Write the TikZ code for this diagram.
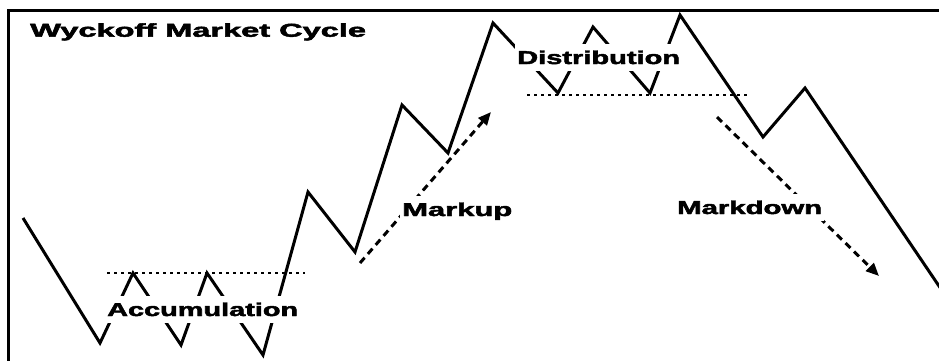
\documentclass[tikz,border=0pt]{standalone}
\usepackage{fontspec}
\setmainfont{Liberation Sans}
\newfontfamily\heavyfont[FakeBold=2.2]{Liberation Sans Bold}
\usetikzlibrary{arrows.meta}
\tikzset{
  price/.style={line width=3pt, line join=miter, line cap=butt},
  frame/.style={line width=3pt},
  level/.style={line width=1.8pt, dash pattern=on 3pt off 4pt},
  trend/.style={line width=3pt, dash pattern=on 7pt off 5pt, -{Triangle[length=13pt,width=11pt]}},
  lbl/.style={fill=white, inner xsep=2pt, inner ysep=7pt, anchor=base west,
              font=\fontsize{18.6}{20}\selectfont\heavyfont},
  ttl/.style={inner sep=0pt, anchor=base west,
              font=\fontsize{18.6}{20}\selectfont\heavyfont}
}
\begin{document}
\begin{tikzpicture}[x=1pt,y=-1pt]
\useasboundingbox (0,0) rectangle (939,360);
\fill[white] (0,0) rectangle (939,360);
% frame
\coordinate (fb) at (8,362);
\coordinate (fc) at (8,10);
\coordinate (fr) at (941,10);
\draw[frame] (fb) -- (fc) -- (fr);
% price path coordinates
\coordinate (a1) at (23,218);
\coordinate (a2) at (100,343);
\coordinate (a3) at (133,273);
\coordinate (a4) at (181,345);
\coordinate (a5) at (207,273);
\coordinate (a6) at (263,355);
\coordinate (a7) at (308,192);
\coordinate (a8) at (355,252);
\coordinate (a9) at (402,105);
\coordinate (a10) at (448,153);
\coordinate (a11) at (493,23);
\coordinate (a12) at (558,93);
\coordinate (a13) at (593,27);
\coordinate (a14) at (650,93);
\coordinate (a15) at (680,15);
\coordinate (a16) at (763,137);
\coordinate (a17) at (805,88);
\coordinate (a18) at (941,289);
% levels
\coordinate (la1) at (107,273);
\coordinate (la2) at (305,273);
\coordinate (ld1) at (527,95);
\coordinate (ld2) at (747,95);
\draw[level] (la1) -- (la2);
\draw[level] (ld1) -- (ld2);
% price
\begin{scope}
\clip (0,0) rectangle (939,360);
\draw[price] (a1) -- (a2) -- (a3) -- (a4) -- (a5) -- (a6) -- (a7) -- (a8)
  -- (a9) -- (a10) -- (a11) -- (a12) -- (a13) -- (a14) -- (a15) -- (a16)
  -- (a17) -- (a18);
\end{scope}
% trend arrows
\coordinate (mu1) at (360,263);
\coordinate (mu2) at (491,112);
\coordinate (md1) at (717,117);
\coordinate (md2) at (879,276);
\draw[trend] (mu1) -- (mu2);
\draw[trend] (md1) -- (md2);
% labels
\node[ttl] (title) at (30,36.7) {\scalebox{1.75}[1]{Wyckoff Market Cycle}};
\node[lbl] (acc) at (105,316) {\scalebox{1.553}[1]{Accumulation}};
\node[lbl] (mup) at (400,216) {\scalebox{1.664}[1]{Markup}};
\node[lbl] (dist) at (515,64) {\scalebox{1.561}[1]{Distribution}};
\node[lbl] (mdn) at (675,214) {\scalebox{1.576}[1]{Markdown}};
\end{tikzpicture}
\end{document}
